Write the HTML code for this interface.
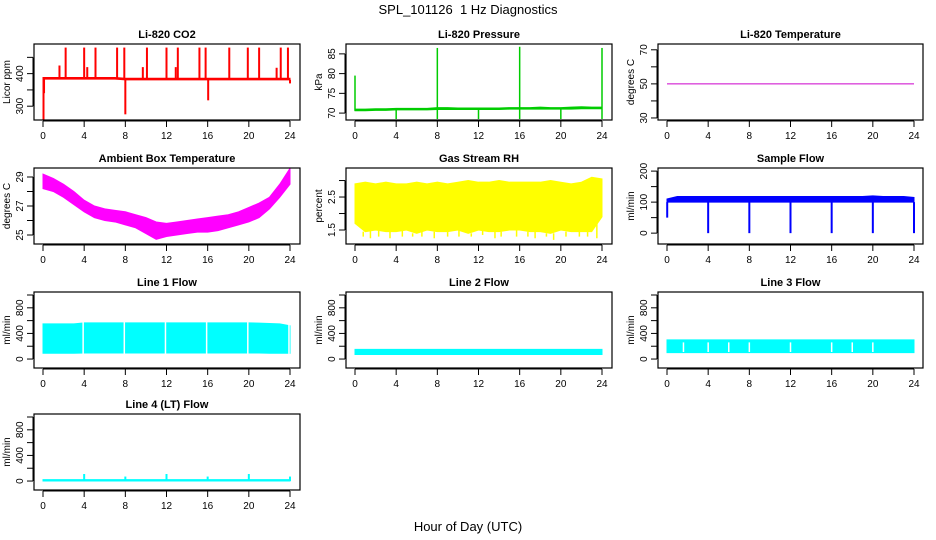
<!DOCTYPE html>
<html><head><meta charset="utf-8">
<style>
html,body{margin:0;padding:0;background:#fff;}
svg{display:block;font-family:"Liberation Sans",sans-serif;}
</style></head>
<body>
<svg id="chart" width="936" height="540" viewBox="0 0 936 540" xmlns="http://www.w3.org/2000/svg">
<text x="468" y="14" font-size="13" text-anchor="middle" style="white-space:pre">SPL_101126  1 Hz Diagnostics</text>
<text x="468" y="531" font-size="13" text-anchor="middle">Hour of Day (UTC)</text>
</svg>
<script>
// ---- data ----
const hours = [0,1,2,3,4,5,6,7,8,9,10,11,12,13,14,15,16,17,18,19,20,21,22,23,24];
const xTicks = [0,4,8,12,16,20,24];

const co2Lo = [383,383,383,383,383,383,383,383,381,381,381,381,381,381,381,381,381,381,381,381,381,381,381,381,381];
const co2Hi = [388,388,388,388,388,388,388,388,386,386,386,386,386,386,386,386,386,386,386,386,386,386,386,386,386];
const co2SpikeX = [0.05,0.1,1.6,2.2,4,4.3,5.1,7.2,7.9,8.0,9.7,10.1,12,12.9,13.1,15.2,15.8,16.05,18.1,19.9,21,22.7,23.1,23.8,24];
const co2SpikeV = [255,340,425,480,480,420,480,480,480,275,420,480,480,420,480,480,480,318,480,480,480,418,480,480,370];

const presLo = [70.6,70.6,70.7,70.7,70.8,70.8,70.8,70.8,70.9,70.9,70.9,70.9,70.9,70.9,70.9,71.0,71.0,71.0,71.0,71.0,71.0,71.0,71.1,71.1,71.1];
const presHi = [71.0,71.0,71.1,71.1,71.2,71.2,71.2,71.2,71.4,71.4,71.3,71.3,71.3,71.3,71.3,71.4,71.4,71.4,71.5,71.4,71.4,71.5,71.6,71.5,71.5];
const presSpikeX = [0,8,16,24,4,8,12,16,20,24];
const presSpikeV = [79.5,86.5,86.8,86.5,68.5,68.5,68.5,68.5,68.5,68.5];

const tempV = [50,50,50,50,50,50,50,50,50,50,50,50,50,50,50,50,50,50,50,50,50,50,50,50,50];

const ambLo = [28.2,28.0,27.6,27.1,26.6,26.2,26.0,25.9,25.7,25.5,25.1,24.7,24.9,25.0,25.1,25.2,25.2,25.3,25.5,25.7,25.9,26.2,26.8,27.6,28.5];
const ambHi = [29.2,28.9,28.5,28.0,27.4,27.0,26.8,26.7,26.6,26.4,26.2,25.9,25.8,25.9,26.0,26.1,26.2,26.3,26.4,26.6,26.9,27.2,27.6,28.5,29.6];

const rhLo = [1.7,1.45,1.5,1.45,1.45,1.5,1.4,1.5,1.45,1.45,1.5,1.4,1.5,1.45,1.45,1.5,1.5,1.45,1.45,1.4,1.5,1.45,1.45,1.45,1.9];
const rhHi = [2.9,2.95,2.9,2.95,2.9,2.9,2.95,2.9,2.95,2.9,2.95,3.0,2.95,2.95,3.0,2.95,2.95,2.95,2.95,3.0,2.95,2.9,2.95,3.1,3.05];
const rhDipX = [0.8,1.5,2.3,3.4,4.6,5.6,6.5,7.7,9.0,10.1,11.3,12.4,13.6,14.2,15.7,16.8,17.5,18.6,19.3,20.5,21.8,22.6,23.5];
const rhDipV = [1.3,1.25,1.3,1.25,1.3,1.3,1.3,1.25,1.3,1.3,1.3,1.35,1.25,1.3,1.3,1.3,1.25,1.3,1.2,1.3,1.3,1.3,1.25];

const sfLo = [100,100,100,100,100,100,100,100,100,100,100,100,100,100,100,100,100,100,100,100,100,100,100,100,100];
const sfHi = [110,118,118,118,118,118,118,118,118,118,118,118,118,118,118,118,118,118,118,118,120,118,118,118,115];
const sfDipX = [0.02,4,8,12,16,20,24];
const sfDipV = [50,0,0,0,0,0,0];

const l1Lo = [90,90,90,90,95,95,95,95,95,95,95,95,95,95,95,95,95,95,95,95,95,95,90,90,90];
const l1Hi = [550,550,550,550,565,565,565,565,565,565,565,565,565,565,565,565,565,565,565,565,565,560,555,550,520];
const l1GapX = [3.9,7.9,11.9,15.9,19.9,23.9];

const l2Lo = [70,70,70,70,70,70,70,70,70,70,70,70,70,70,70,70,70,70,70,70,70,70,70,70,70];
const l2Hi = [150,150,150,150,150,150,150,150,150,150,150,150,150,150,150,150,150,150,150,150,150,150,150,150,150];

const l3Lo = [100,100,100,100,100,100,100,100,100,100,100,100,100,100,100,100,100,100,100,100,100,100,100,100,100];
const l3Hi = [300,300,300,300,300,300,300,300,300,300,300,300,300,300,300,300,300,300,300,300,300,300,300,300,300];
const l3GapX = [1.6,4,6,8,12,16,18,20];

const l4Lo = [0,0,0,0,0,0,0,0,0,0,0,0,0,0,0,0,0,0,0,0,0,0,0,0,0];
const l4Hi = [22,22,22,22,22,22,22,22,22,22,22,22,22,22,22,22,22,22,22,22,22,22,22,22,22];
const l4SpikeX = [4,8,12,16,20,24];
const l4SpikeV = [110,70,110,70,110,70];

const flowTicks = [0,200,400,600,800,1000];
const flowLabels = ["0","400","800"];

// ---- drawing ----
const NS = "http://www.w3.org/2000/svg";
const svg = document.getElementById('chart');
const colX = [{l:34,r:300,x0:43,x1:290},{l:346,r:612,x0:355,x1:602},{l:658,r:923,x0:667,x1:914}];
const rowY = [44,168,292,414];
const PH = 76;

function mk(tag, parent){ const e = document.createElementNS(NS, tag); parent.appendChild(e); return e; }

function panel(c, r, title, ylab, ymin, ymax, yticks, ylabels, draw, name){
  const C = colX[c], top = rowY[r], bot = top + PH;
  const g = mk('g', svg);
  
  
  const sx = v => C.x0 + (v / 24) * (C.x1 - C.x0);
  const sy = v => bot - (v - ymin) / (ymax - ymin) * PH;
  const clipId = 'clip-' + name;
  const cp = mk('clipPath', g); cp.setAttribute('id', clipId);
  const cr = mk('rect', cp); cr.setAttribute('x', C.l); cr.setAttribute('y', top); cr.setAttribute('width', C.r - C.l); cr.setAttribute('height', PH);
  const pg = mk('g', g); pg.setAttribute('clip-path', 'url(#' + clipId + ')');
  
  
  draw(pg, sx, sy);
  const box = mk('rect', g);
  
  
  box.setAttribute('x', C.l); box.setAttribute('y', top); box.setAttribute('width', C.r - C.l); box.setAttribute('height', PH);
  box.setAttribute('fill', 'none'); box.setAttribute('stroke', '#000'); box.setAttribute('stroke-width', '1.2');
  const t = mk('text', g);
  
  
  t.setAttribute('x', (C.l + C.r) / 2); t.setAttribute('y', top - 6);
  t.setAttribute('font-size', '11'); t.setAttribute('font-weight', 'bold'); t.setAttribute('text-anchor', 'middle');
  t.textContent = title;
  // x axis
  const xa = mk('g', g);
  
  
  let xl = mk('line', xa); xl.setAttribute('x1', sx(xTicks[0])); xl.setAttribute('x2', sx(xTicks[xTicks.length-1])); xl.setAttribute('y1', bot + 1); xl.setAttribute('y2', bot + 1); xl.setAttribute('stroke', '#000');
  xTicks.forEach(v => {
    const l = mk('line', xa); l.setAttribute('x1', sx(v)); l.setAttribute('x2', sx(v)); l.setAttribute('y1', bot + 1); l.setAttribute('y2', bot + 7); l.setAttribute('stroke', '#000');
    const tx = mk('text', xa); tx.setAttribute('x', sx(v)); tx.setAttribute('y', bot + 19); tx.setAttribute('font-size', '10'); tx.setAttribute('text-anchor', 'middle'); tx.textContent = v;
  });
  // y axis
  const ya = mk('g', g);
  
  
  let yl = mk('line', ya); yl.setAttribute('x1', C.l - 1); yl.setAttribute('x2', C.l - 1); yl.setAttribute('y1', sy(yticks[0])); yl.setAttribute('y2', Math.max(sy(yticks[yticks.length-1]), top)); yl.setAttribute('stroke', '#000');
  yticks.forEach(v => {
    const y = sy(v); if (y < top - 1) return;
    const l = mk('line', ya); l.setAttribute('x1', C.l - 7); l.setAttribute('x2', C.l - 1); l.setAttribute('y1', y); l.setAttribute('y2', y); l.setAttribute('stroke', '#000');
  });
  ylabels.forEach(s => {
    const y = sy(parseFloat(s));
    const tx = mk('text', ya); tx.setAttribute('font-size', '10'); tx.setAttribute('text-anchor', 'middle');
    tx.setAttribute('transform', 'translate(' + (C.l - 11) + ',' + y + ') rotate(-90)'); tx.textContent = s;
  });
  const yt = mk('text', g);
  
  
  yt.setAttribute('font-size', '10'); yt.setAttribute('text-anchor', 'middle');
  yt.setAttribute('transform', 'translate(' + (C.l - 24) + ',' + (top + PH / 2) + ') rotate(-90)');
  yt.textContent = ylab;
}

function band(g, sx, sy, lo, hi, color){
  let pts = hours.map((h, i) => sx(h) + ',' + sy(hi[i]));
  for (let i = hours.length - 1; i >= 0; i--) pts.push(sx(hours[i]) + ',' + sy(lo[i]));
  const p = mk('polygon', g); p.setAttribute('points', pts.join(' ')); p.setAttribute('fill', color); p.setAttribute('stroke', color);
}
function spikes(g, sx, sy, xs, vs, base, color, w){
  xs.forEach((x, i) => {
    const l = mk('line', g); l.setAttribute('x1', sx(x)); l.setAttribute('x2', sx(x));
    l.setAttribute('y1', sy(base[Math.min(24, Math.round(x))])); l.setAttribute('y2', sy(vs[i]));
    l.setAttribute('stroke', color); l.setAttribute('stroke-width', w || 1.5);
  });
}
function gaps(g, sx, sy, xs, lo, hi){
  xs.forEach(x => {
    const l = mk('line', g); l.setAttribute('x1', sx(x)); l.setAttribute('x2', sx(x));
    l.setAttribute('y1', sy(lo)); l.setAttribute('y2', sy(hi)); l.setAttribute('stroke', '#fff'); l.setAttribute('stroke-width', 1.5);
  });
}

panel(0,0,'Li-820 CO2','Licor ppm',257.6,491,[300,350,400,450],['300','400'],(g,sx,sy)=>{
  band(g,sx,sy,co2Lo,co2Hi,'#ff0000'); spikes(g,sx,sy,co2SpikeX,co2SpikeV,co2Lo,'#ff0000',2);
},'co2');
panel(1,0,'Li-820 Pressure','kPa',68.25,87.5,[70,75,80,85],['70','75','80','85'],(g,sx,sy)=>{
  band(g,sx,sy,presLo,presHi,'#00cc00'); spikes(g,sx,sy,presSpikeX,presSpikeV,presLo,'#00cc00',1.5);
},'pressure');
panel(2,0,'Li-820 Temperature','degrees C',28.8,73.4,[30,40,50,60,70],['30','50','70'],(g,sx,sy)=>{
  const p = mk('polyline', g); p.setAttribute('points', hours.map((h,i)=>sx(h)+','+sy(tempV[i])).join(' '));
  p.setAttribute('fill','none'); p.setAttribute('stroke','#cc00cc'); p.setAttribute('stroke-width','1');
},'li820-temp');
panel(0,1,'Ambient Box Temperature','degrees C',24.38,29.62,[25,26,27,28,29],['25','27','29'],(g,sx,sy)=>{
  band(g,sx,sy,ambLo,ambHi,'#ff00ff');
},'ambient-temp');
panel(1,1,'Gas Stream RH','percent',1.076,3.38,[1.5,2,2.5,3],['1.5','2.5'],(g,sx,sy)=>{
  band(g,sx,sy,rhLo,rhHi,'#ffff00'); spikes(g,sx,sy,rhDipX,rhDipV,rhLo,'#ffff00',1.5);
},'gas-rh');
panel(2,1,'Sample Flow','ml/min',-35,210,[0,50,100,150,200],['0','100','200'],(g,sx,sy)=>{
  band(g,sx,sy,sfLo,sfHi,'#0000ff'); spikes(g,sx,sy,sfDipX,sfDipV,sfLo,'#0000ff',2);
},'sample-flow');
panel(0,2,'Line 1 Flow','ml/min',-140,1047,flowTicks,flowLabels,(g,sx,sy)=>{
  band(g,sx,sy,l1Lo,l1Hi,'#00ffff'); gaps(g,sx,sy,l1GapX,80,600);
},'line1-flow');
panel(1,2,'Line 2 Flow','ml/min',-140,1047,flowTicks,flowLabels,(g,sx,sy)=>{
  band(g,sx,sy,l2Lo,l2Hi,'#00ffff');
},'line2-flow');
panel(2,2,'Line 3 Flow','ml/min',-140,1047,flowTicks,flowLabels,(g,sx,sy)=>{
  band(g,sx,sy,l3Lo,l3Hi,'#00ffff'); gaps(g,sx,sy,l3GapX,110,260);
},'line3-flow');
panel(0,3,'Line 4 (LT) Flow','ml/min',-140,1047,flowTicks,flowLabels,(g,sx,sy)=>{
  band(g,sx,sy,l4Lo,l4Hi,'#00ffff'); spikes(g,sx,sy,l4SpikeX,l4SpikeV,l4Lo,'#00ffff',2);
},'line4-flow');
</script>
</body></html>
